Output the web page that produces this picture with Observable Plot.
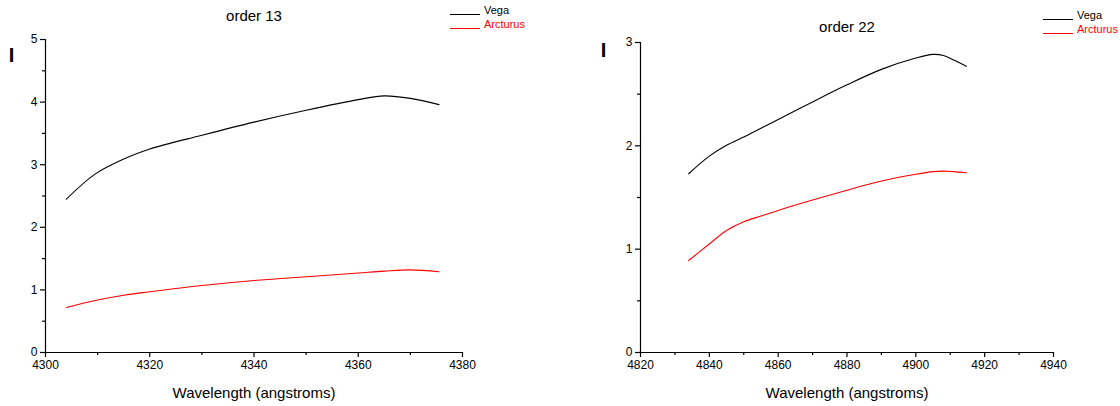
<!DOCTYPE html>
<html>
<head>
<meta charset="utf-8">
<script src="https://cdn.jsdelivr.net/npm/d3@7"></script>
<script src="https://cdn.jsdelivr.net/npm/@observablehq/plot@0.6"></script>
<style>
  html, body { margin: 0; padding: 0; background: #fff; }
  #wrap { position: relative; width: 1120px; height: 406px; overflow: hidden; font-family: "Liberation Sans", Arial, sans-serif; }
  .panel { position: absolute; top: 0; }
  .legend { position: absolute; font-size: 11px; line-height: 14px; }
  .legend .row { position: relative; height: 14px; white-space: nowrap; }
  .legend .sw { display: inline-block; width: 30px; height: 0; border-top: 1px solid; vertical-align: baseline; margin-right: 4px; position: relative; top: 1px; }
</style>
</head>
<body>
<div id="wrap">
  <div class="panel" id="p13" style="left:0"></div>
  <div class="panel" id="p22" style="left:560px"></div>
</div>
<script>
// ---------- data ----------
const seriesNames = ["Vega", "Arcturus"];
const seriesColors = ["#000000", "#ff0000"];

const order13Wavelength = [4304, 4309.5, 4315, 4320, 4330, 4340, 4350, 4360, 4365, 4370, 4375.5];
const order13Vega       = [2.45, 2.85, 3.09, 3.25, 3.47, 3.68, 3.87, 4.04, 4.10, 4.06, 3.96];
const order13Arcturus   = [0.72, 0.83, 0.915, 0.97, 1.07, 1.15, 1.21, 1.27, 1.30, 1.32, 1.29];

const order22Wavelength = [4834, 4840, 4845, 4850, 4855, 4860, 4870, 4880, 4890, 4900, 4905, 4908, 4911, 4914.7];
const order22Vega       = [1.73, 1.90, 2.005, 2.085, 2.17, 2.255, 2.425, 2.59, 2.74, 2.85, 2.885, 2.875, 2.83, 2.77];
const order22Arcturus   = [0.89, 1.05, 1.18, 1.265, 1.32, 1.375, 1.475, 1.57, 1.66, 1.725, 1.75, 1.755, 1.75, 1.74];

const order13XTicks = [4300, 4320, 4340, 4360, 4380];
const order13XMinor = [4310, 4330, 4350, 4370];
const order13YTicks = [0, 1, 2, 3, 4, 5];
const order13YMinor = [0.5, 1.5, 2.5, 3.5, 4.5];

const order22XTicks = [4820, 4840, 4860, 4880, 4900, 4920, 4940];
const order22XMinor = [4830, 4850, 4870, 4890, 4910, 4930];
const order22YTicks = [0, 1, 2, 3];
const order22YMinor = [0.5, 1.5, 2.5];

const xLabel = "Wavelength (angstroms)";
const yLabel = "I";

function rows(wl, a, b) {
  const out = [];
  wl.forEach((w, i) => {
    out.push({w, v: a[i], s: seriesNames[0]});
  });
  wl.forEach((w, i) => {
    out.push({w, v: b[i], s: seriesNames[1]});
  });
  return out;
}

function panel(opts) {
  const data = rows(opts.wl, opts.a, opts.b);
  return Plot.plot({
    width: 560,
    height: 406,
    marginLeft: opts.ml,
    marginRight: opts.mr,
    marginTop: opts.mt,
    marginBottom: 54,
    style: {fontFamily: "'Liberation Sans', Arial, sans-serif", fontSize: "12px", color: "#000", background: "transparent"},
    x: {domain: opts.xd},
    y: {domain: opts.yd},
    color: {domain: seriesNames, range: seriesColors},
    marks: [
      Plot.ruleY([opts.yd[0]], {stroke: "#000", strokeWidth: 1.2}),
      Plot.ruleX([opts.xd[0]], {stroke: "#000", strokeWidth: 1.2}),
      Plot.axisX({ticks: opts.xt, tickSize: 5, tickPadding: 3, label: null, tickFormat: d => String(d), strokeWidth: 1.2, fontSize: 12}),
      Plot.axisX({ticks: opts.xm, tickSize: 3, text: null, label: null, strokeWidth: 1.2}),
      Plot.axisY({ticks: opts.yt, tickSize: 5, tickPadding: 3, label: null, tickFormat: d => String(d), strokeWidth: 1.2, fontSize: 12}),
      Plot.axisY({ticks: opts.ym, tickSize: 3, text: null, label: null, strokeWidth: 1.2}),
      Plot.line(data, {x: "w", y: "v", z: "s", stroke: "s", strokeWidth: 1.1, curve: "catmull-rom"}),
      Plot.text([opts.title], {text: d => d, frameAnchor: "top", dy: opts.titleDy, fontSize: 15, lineAnchor: "middle"}),
      Plot.text([xLabel], {text: d => d, frameAnchor: "bottom", dy: 41, fontSize: 15, lineAnchor: "middle"}),
      Plot.text([yLabel], {text: d => d, frameAnchor: "top-left", dx: opts.iDx, dy: opts.iDy, fontSize: 20, fontWeight: "bold", textAnchor: "middle", lineAnchor: "middle"})
    ]
  });
}

document.getElementById("p13").appendChild(panel({
  wl: order13Wavelength, a: order13Vega, b: order13Arcturus,
  xd: [4300, 4380], yd: [0, 5], xt: order13XTicks, xm: order13XMinor, yt: order13YTicks, ym: order13YMinor,
  ml: 45, mr: 98, mt: 39, title: "order 13", titleDy: -23, iDx: -34, iDy: 16
}));
document.getElementById("p22").appendChild(panel({
  wl: order22Wavelength, a: order22Vega, b: order22Arcturus,
  xd: [4820, 4940], yd: [0, 3], xt: order22XTicks, xm: order22XMinor, yt: order22YTicks, ym: order22YMinor,
  ml: 80, mr: 67, mt: 42, title: "order 22", titleDy: -15, iDx: -37, iDy: 8
}));

function legend(left, top) {
  const div = document.createElement("div");
  div.className = "legend";
  div.style.left = left + "px";
  div.style.top = top + "px";
  seriesNames.forEach((n, i) => {
    const row = document.createElement("div");
    row.className = "row";
    row.style.color = seriesColors[i];
    const sw = document.createElement("span");
    sw.className = "sw";
    sw.style.borderTopColor = seriesColors[i];
    row.appendChild(sw);
    row.appendChild(document.createTextNode(n));
    div.appendChild(row);
  });
  document.getElementById("wrap").appendChild(div);
}
legend(450, 3);
legend(1043, 8);
</script>
</body>
</html>
